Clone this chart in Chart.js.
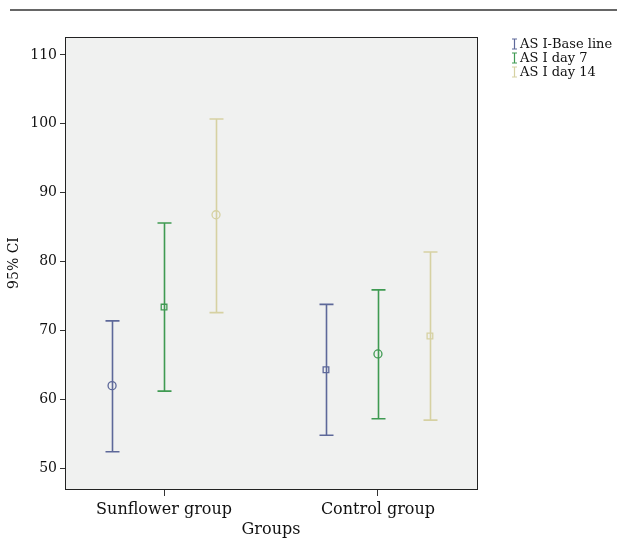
<!DOCTYPE html>
<html><head><meta charset="utf-8">
<script src="https://cdn.jsdelivr.net/npm/chart.js@4"></script>
<style>html,body{margin:0;padding:0;background:#fff}</style>
</head><body>
<canvas id="c" width="617" height="539"></canvas>
<script>
const categories = ["Sunflower group", "Control group"];
const seriesNames = ["AS I-Base line", "AS I day 7", "AS I day 14"];
const meanBase  = [62.0, 64.3];
const meanDay7  = [73.4, 66.6];
const meanDay14 = [86.8, 69.2];
const lowBase   = [52.4, 54.8];
const lowDay7   = [61.2, 57.2];
const lowDay14  = [72.6, 57.0];
const highBase  = [71.4, 73.8];
const highDay7  = [85.6, 75.9];
const highDay14 = [100.7, 81.4];
const yTicks = [50, 60, 70, 80, 90, 100, 110];

const means = [meanBase, meanDay7, meanDay14];
const lows = [lowBase, lowDay7, lowDay14];
const highs = [highBase, highDay7, highDay14];
const colors = ["#5d6899", "#3f9a52", "#d6d1a2"];
const markerStyles = [["circle", "rect"], ["rect", "circle"], ["circle", "rect"]];
const OFFSET = 0.243;
const FONT = "'DejaVu Serif', serif";

const datasets = seriesNames.map((name, s) => ({
  label: name,
  data: categories.map((c, i) => ({ x: i + 1 + (s - 1) * OFFSET, y: means[s][i], lo: lows[s][i], hi: highs[s][i] })),
  borderColor: colors[s],
  backgroundColor: 'rgba(0,0,0,0)',
  pointStyle: markerStyles[s],
  pointRadius: 4,
  pointBorderWidth: 1.3,
  showLine: false
}));

const framePlugin = {
  id: 'frame',
  beforeDraw(ch) {
    const { ctx, chartArea: a } = ch;
    ctx.save();
    ctx.fillStyle = '#f0f1f0';
    ctx.fillRect(a.left, a.top, a.right - a.left, a.bottom - a.top);
    ctx.strokeStyle = '#333';
    ctx.lineWidth = 1.5;
    ctx.beginPath(); ctx.moveTo(10, 10); ctx.lineTo(617, 10); ctx.stroke();
    ctx.restore();
  },
  beforeDatasetsDraw(ch) {
    const { ctx } = ch;
    const xs = ch.scales.x, ys = ch.scales.y;
    ctx.save();
    ch.data.datasets.forEach((ds) => {
      ctx.strokeStyle = ds.borderColor;
      ctx.lineWidth = 1.6;
      ds.data.forEach((p) => {
        const x = Math.round(xs.getPixelForValue(p.x)) + 0.5;
        const yl = ys.getPixelForValue(p.lo), yh = ys.getPixelForValue(p.hi);
        ctx.beginPath();
        ctx.moveTo(x, yl); ctx.lineTo(x, yh);
        ctx.moveTo(x - 7, yl); ctx.lineTo(x + 7, yl);
        ctx.moveTo(x - 7, yh); ctx.lineTo(x + 7, yh);
        ctx.stroke();
      });
    });
    ctx.restore();
  },
  afterDraw(ch) {
    const { ctx, chartArea: a } = ch;
    ctx.save();
    ctx.strokeStyle = '#222';
    ctx.lineWidth = 1;
    ctx.strokeRect(Math.round(a.left) + 0.5, Math.round(a.top) + 0.5, Math.round(a.right - a.left), Math.round(a.bottom - a.top));
    ctx.font = "13px " + FONT;
    ctx.textBaseline = 'middle';
    seriesNames.forEach((n, s) => {
      const y = 44 + s * 14;
      const x = 514.5;
      ctx.strokeStyle = colors[s];
      ctx.lineWidth = 1.2;
      ctx.beginPath();
      ctx.moveTo(x, y - 5); ctx.lineTo(x, y + 5);
      ctx.moveTo(x - 2.5, y - 5); ctx.lineTo(x + 2.5, y - 5);
      ctx.moveTo(x - 2.5, y + 5); ctx.lineTo(x + 2.5, y + 5);
      ctx.stroke();
      ctx.fillStyle = '#111';
      ctx.fillText(n, 520, y + 1);
    });
    ctx.restore();
  }
};

new Chart(document.getElementById('c'), {
  type: 'scatter',
  data: { datasets },
  plugins: [framePlugin],
  options: {
    responsive: false,
    animation: false,
    devicePixelRatio: 1,
    layout: { padding: { left: 0, right: 140, top: 37, bottom: 0 } },
    plugins: { legend: { display: false }, tooltip: { enabled: false } },
    scales: {
      x: {
        type: 'linear', min: 0.537, max: 2.463,
        afterBuildTicks: (s) => { s.ticks = categories.map((c, i) => ({ value: i + 1 })); },
        afterFit: (s) => { s.height = 50; },
        ticks: { callback: (v) => categories[Math.round(v) - 1], color: '#111', font: { family: FONT, size: 16 }, padding: 4, maxRotation: 0, autoSkip: false },
        grid: { display: true, drawOnChartArea: false, tickLength: 7, color: '#333', tickWidth: 1 },
        border: { display: false },
        title: { display: true, text: 'Groups', color: '#111', font: { family: FONT, size: 16 }, padding: { top: -8, bottom: 0 } }
      },
      y: {
        min: 47, max: 112.6,
        afterBuildTicks: (s) => { s.ticks = yTicks.map(v => ({ value: v })); },
        afterFit: (s) => { s.width = 65; },
        ticks: { color: '#111', font: { family: FONT, size: 14 }, padding: 3 },
        grid: { display: true, drawOnChartArea: false, tickLength: 5, color: '#333' },
        border: { display: false },
        title: { display: true, text: '95% CI', color: '#111', font: { family: FONT, size: 14 }, padding: { top: 6, bottom: 0 } }
      }
    }
  }
});
</script>
</body></html>
